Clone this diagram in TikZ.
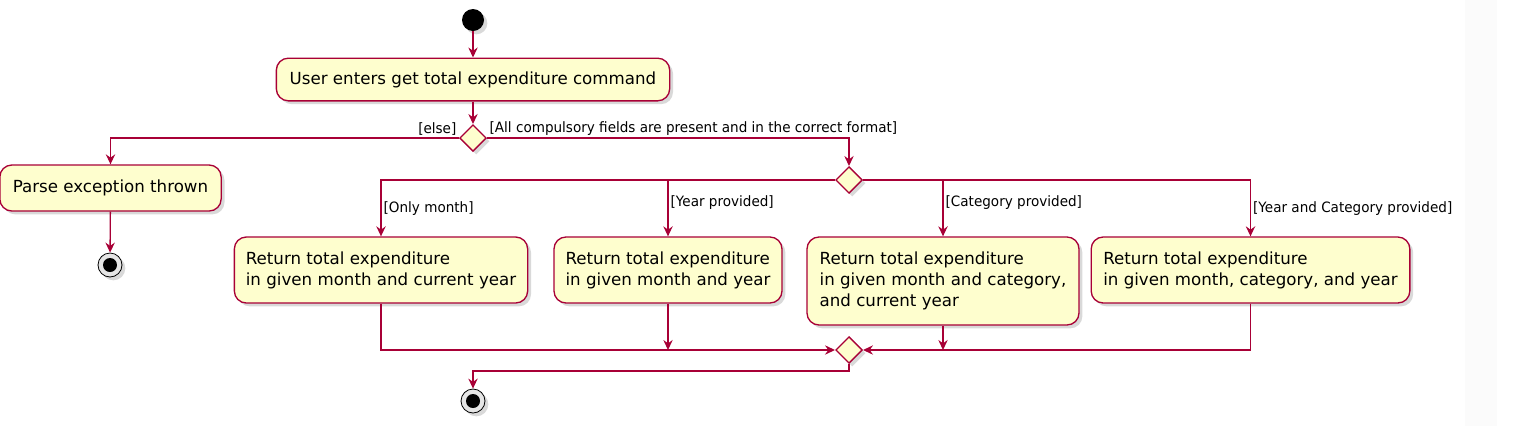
\documentclass[tikz,border=0pt]{standalone}
\usepackage{fontspec}
\setmainfont{DejaVu Sans}
\newfontfamily\guardfont{DejaVu Sans}[FakeStretch=0.95]
\usetikzlibrary{shapes.geometric,arrows.meta,positioning,shadows}
\definecolor{umlred}{HTML}{A80036}
\definecolor{umlfill}{HTML}{FEFECE}

\begin{document}
\begin{tikzpicture}[
    x=0.75pt, y=-0.75pt,
    font=\fontsize{12.5}{15.75}\selectfont,
    shade/.style={drop shadow={shadow xshift=2.5pt, shadow yshift=-2.5pt, opacity=0.3}},
    act/.style={draw=umlred, fill=umlfill, line width=1pt, rounded corners=9pt, align=left, inner sep=0pt, shade},
    choice/.style={diamond, draw=umlred, fill=umlfill, line width=1pt, minimum width=20pt, minimum height=20pt, inner sep=0pt, shade},
    startdot/.style={circle, fill=black, minimum size=16.5pt, inner sep=0pt, shade},
    stopdot/.style={circle, draw=black, fill=gray!20, line width=0.6pt, minimum size=18pt, inner sep=0pt, shade,
        path picture={\fill[black] (path picture bounding box.center) circle (5.25pt);}},
    flow/.style={draw=umlred, line width=1pt, -{Stealth[length=7.5pt, width=7pt, inset=2.5pt]}},
    guard/.style={font=\guardfont\fontsize{10.7}{12}\selectfont, inner sep=1.5pt}
]
    \useasboundingbox (0,0) rectangle (1521,426);
    \fill[gray!3] (1465,0) rectangle (1497,426);

    % Start and command
    \node[startdot] (start) at (473,20) {};
    \node[act, minimum width=295pt, minimum height=32pt] (cmd) at (473,79.5) {User enters get total expenditure command};
    \node[choice] (chk) at (473,138) {};

    % Error branch
    \node[act, minimum width=166pt, minimum height=34.5pt] (parse) at (110.5,188) {Parse exception thrown};
    \node[stopdot] (stopA) at (110,265) {};

    % Valid branch
    \node[choice] (split) at (849,180) {};
    \node[act, minimum width=220pt, minimum height=49.5pt] (retA) at (381,270) {Return total expenditure\\in given month and current year};
    \node[act, minimum width=171pt, minimum height=49.5pt] (retB) at (668,270) {Return total expenditure\\in given month and year};
    \node[act, minimum width=204pt, minimum height=66pt] (retC) at (943,281) {Return total expenditure\\in given month and category,\\and current year};
    \node[act, minimum width=239pt, minimum height=49.5pt] (retD) at (1250.5,270) {Return total expenditure\\in given month, category, and year};
    \node[choice] (merge) at (849,350) {};
    \node[stopdot] (stopB) at (473,401) {};

    % Connectors
    \draw[flow] (start) -- (cmd);
    \draw[flow] (cmd) -- (chk);
    \draw[flow] (chk.west) node[guard, anchor=south east] (gElse) {[else]} -| (parse.north);
    \draw[flow] (chk.east) node[guard, anchor=south west] (gAll) {[All compulsory fields are present and in the correct format]} -| (split.north);
    \draw[flow] (parse) -- (stopA);

    \draw[flow] (split.west) -| node[guard, pos=0.75, anchor=west] (gMonth) {[Only month]} (retA.north);
    \draw[flow] (split.west) -| node[guard, pos=0.70, anchor=west] (gYear) {[Year provided]} (retB.north);
    \draw[flow] (split.east) -| node[guard, pos=0.70, anchor=west] (gCat) {[Category provided]} (retC.north);
    \draw[flow] (split.east) -| node[guard, pos=0.75, anchor=west] (gBoth) {[Year and Category provided]} (retD.north);

    \draw[flow] (retA.south) |- (merge.west);
    \draw[flow] (retB.south) -- (retB.south |- merge);
    \draw[flow] (retC.south) -- (retC.south |- merge);
    \draw[flow] (retD.south) |- (merge.east);
    \draw[flow] (merge.south) -- ++(0,7) -| (stopB.north);

\end{tikzpicture}
\end{document}
